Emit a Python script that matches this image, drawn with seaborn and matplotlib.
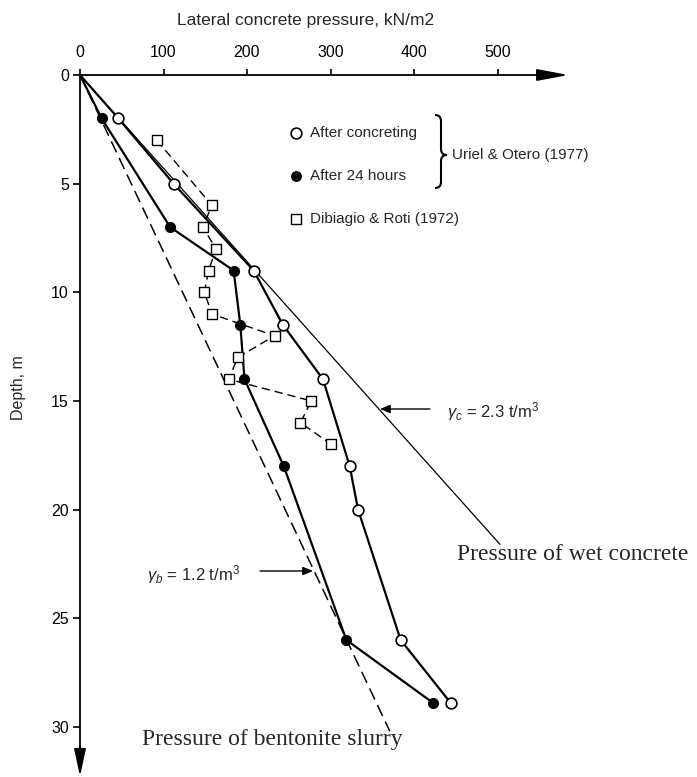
import numpy as np
import pandas as pd
import matplotlib
matplotlib.use("Agg")
import matplotlib.pyplot as plt
import seaborn as sns
from matplotlib.path import Path
from matplotlib.patches import PathPatch

# ---------------- data ----------------
conc_depth = [2, 5, 9, 11.5, 14, 18, 20, 26, 28.9]
conc_press = [46, 112, 208, 243, 291, 323, 333, 384, 444]

h24_depth = [2, 7, 9, 11.5, 14, 18, 26, 28.9]
h24_press = [26, 108, 184, 192, 197, 244, 319, 423]

dib_depth = [3, 6, 7, 8, 9, 10, 11, 12, 13, 14, 15, 16, 17]
dib_press = [92, 158, 147, 163, 154, 149, 158, 233, 189, 178, 277, 264, 301]

wet_depth = [0, 21.6]
wet_press = [0, 503]
bent_depth = [0, 30.2]
bent_press = [0, 371]

x_ticks = [0, 100, 200, 300, 400, 500]
y_ticks = [0, 5, 10, 15, 20, 25, 30]

x_label = "Lateral concrete pressure, kN/m2"
y_label = "Depth, m"
lab_conc = "After concreting"
lab_h24 = "After 24 hours"
lab_dib = "Dibiagio & Roti (1972)"
lab_uriel = "Uriel & Otero (1977)"
lab_wet = "Pressure of wet concrete"
lab_bent = "Pressure of bentonite slurry"
lab_gc = r"$\gamma_c$ = 2.3 t/m$^3$"
lab_gb = r"$\gamma_b$ = 1.2 t/m$^3$"

# ---------------- style ----------------
W, H = 697, 777
sns.set_theme(style="white")
plt.rcParams["font.family"] = ["Liberation Sans", "DejaVu Sans"]
plt.rcParams["mathtext.fontset"] = "custom"
plt.rcParams["mathtext.rm"] = "Liberation Sans"
plt.rcParams["mathtext.it"] = "Liberation Sans:italic"

fig = plt.figure(figsize=(W / 100, H / 100), dpi=100)
fig.patch.set_facecolor("white")

x0px, x1px = 80, 568.5
y0px, y1px = 75, 776.5
px_per_m = 21.73
px_per_kn = 0.835
XMAX = (x1px - x0px) / px_per_kn
YMAX = (y1px - y0px) / px_per_m

ax = fig.add_axes([x0px / W, 1 - y1px / H, (x1px - x0px) / W, (y1px - y0px) / H])
ax.set_facecolor("none")
ax.set_xlim(0, XMAX)
ax.set_ylim(YMAX, 0)


def fp(x, y):
    return (x / W, 1 - y / H)


def px2data(x, y):
    return ((x - x0px) / px_per_kn, (y - y0px) / px_per_m)


# reference lines
sns.lineplot(x=wet_press, y=wet_depth, sort=False, estimator=None, color="black",
             lw=0.9, ax=ax)
sns.lineplot(x=bent_press, y=bent_depth, sort=False, estimator=None, color="black",
             lw=1.1, ax=ax)
ax.lines[-1].set_dashes((8, 4))

# Dibiagio dashed
sns.lineplot(x=dib_press, y=dib_depth, sort=False, estimator=None, color="black",
             lw=1.0, ax=ax)
ax.lines[-1].set_dashes((6, 3.5))

# Uriel & Otero lines from origin
sns.lineplot(x=[0] + conc_press, y=[0] + conc_depth, sort=False, estimator=None,
             color="black", lw=1.6, ax=ax)
sns.lineplot(x=[0] + h24_press, y=[0] + h24_depth, sort=False, estimator=None,
             color="black", lw=1.6, ax=ax)

# markers
sns.scatterplot(x=dib_press, y=dib_depth, marker="s", s=42, facecolor="white",
                edgecolor="black", linewidth=1.0, zorder=5, ax=ax)
sns.scatterplot(x=conc_press, y=conc_depth, marker="o", s=60, facecolor="white",
                edgecolor="black", linewidth=1.2, zorder=6, ax=ax)
sns.scatterplot(x=h24_press, y=h24_depth, marker="o", s=52, color="black",
                edgecolor="black", linewidth=0.8, zorder=6, ax=ax)

# axes: ticks & arrows
for s in ax.spines.values():
    s.set_visible(False)
ax.xaxis.tick_top()
ax.set_xticks(x_ticks)
ax.set_yticks(y_ticks)
ax.set_xticklabels([str(t) for t in x_ticks])
ax.set_yticklabels([str(t) for t in y_ticks])
ax.tick_params(axis="x", direction="out", length=4, width=1.2, pad=7,
               labelsize=11.5, colors="black", top=True, bottom=False)
ax.tick_params(axis="y", direction="out", length=5, width=1.2, pad=3,
               labelsize=11.5, colors="black", left=True, right=False)
ax.grid(False)
ax.set_xlabel("")
ax.set_ylabel("")

ax.annotate("", xy=(1, 1), xytext=(0, 1), xycoords="axes fraction",
            arrowprops=dict(arrowstyle="-|>,head_length=1.6,head_width=0.3",
                            lw=1.3, color="black", shrinkA=0, shrinkB=0),
            annotation_clip=False)
ax.annotate("", xy=(0, 0), xytext=(0, 1), xycoords="axes fraction",
            arrowprops=dict(arrowstyle="-|>,head_length=1.4,head_width=0.3",
                            lw=1.3, color="black", shrinkA=0, shrinkB=0),
            annotation_clip=False)

fig.text(*fp(306, 21), x_label, ha="center", va="center", fontsize=12.5)
fig.text(*fp(18, 388), y_label, ha="center", va="center", rotation=90, fontsize=11.5)

# legend (manual, as in the figure)
lx = 296
sns.scatterplot(x=[px2data(lx, 132.7)[0]], y=[px2data(lx, 132.7)[1]], marker="o", s=60,
                facecolor="white", edgecolor="black", linewidth=1.2, zorder=6, ax=ax)
sns.scatterplot(x=[px2data(lx, 176)[0]], y=[px2data(lx, 176)[1]], marker="o", s=52,
                color="black", edgecolor="black", zorder=6, ax=ax)
sns.scatterplot(x=[px2data(lx, 219)[0]], y=[px2data(lx, 219)[1]], marker="s", s=42,
                facecolor="white", edgecolor="black", linewidth=1.0, zorder=6, ax=ax)
leg_fs = 11
fig.text(*fp(310, 133), lab_conc, ha="left", va="center", fontsize=leg_fs)
fig.text(*fp(310, 176), lab_h24, ha="left", va="center", fontsize=leg_fs)
fig.text(*fp(310, 219), lab_dib, ha="left", va="center", fontsize=leg_fs)
fig.text(*fp(452, 155), lab_uriel, ha="left", va="center", fontsize=leg_fs)

# brace
bx0, bx1, bxt = 435, 441, 447
by0, bym, by1 = 115, 155, 188
verts_px = [(bx0, by0), (bx1, by0), (bx1, by0 + 6),
            (bx1, bym - 6),
            (bx1, bym), (bxt, bym),
            (bx1, bym), (bx1, bym + 6),
            (bx1, by1 - 6),
            (bx1, by1), (bx0, by1)]
codes = [Path.MOVETO, Path.CURVE3, Path.CURVE3,
         Path.LINETO,
         Path.CURVE3, Path.CURVE3,
         Path.CURVE3, Path.CURVE3,
         Path.LINETO,
         Path.CURVE3, Path.CURVE3]
verts = [fp(x, y) for x, y in verts_px]
fig.add_artist(PathPatch(Path(verts, codes), transform=fig.transFigure,
                         fill=False, lw=1.5, edgecolor="black"))

# annotations
fig.add_artist(matplotlib.patches.FancyArrowPatch(
    fp(430, 409), fp(380, 409), transform=fig.transFigure,
    arrowstyle="-|>,head_length=6,head_width=2.5", lw=1.0, color="black",
    shrinkA=0, shrinkB=0))
fig.text(*fp(447, 412), lab_gc, ha="left", va="center", fontsize=12)
fig.add_artist(matplotlib.patches.FancyArrowPatch(
    fp(260, 571), fp(313, 571), transform=fig.transFigure,
    arrowstyle="-|>,head_length=6,head_width=2.5", lw=1.0, color="black",
    shrinkA=0, shrinkB=0))
fig.text(*fp(147, 575), lab_gb, ha="left", va="center", fontsize=12)

fig.text(*fp(457, 555), lab_wet, ha="left", va="center", fontsize=17,
         family="Liberation Serif")
fig.text(*fp(142, 740), lab_bent, ha="left", va="center", fontsize=17,
         family="Liberation Serif")

fig.savefig("out.png", dpi=100, facecolor="white")
